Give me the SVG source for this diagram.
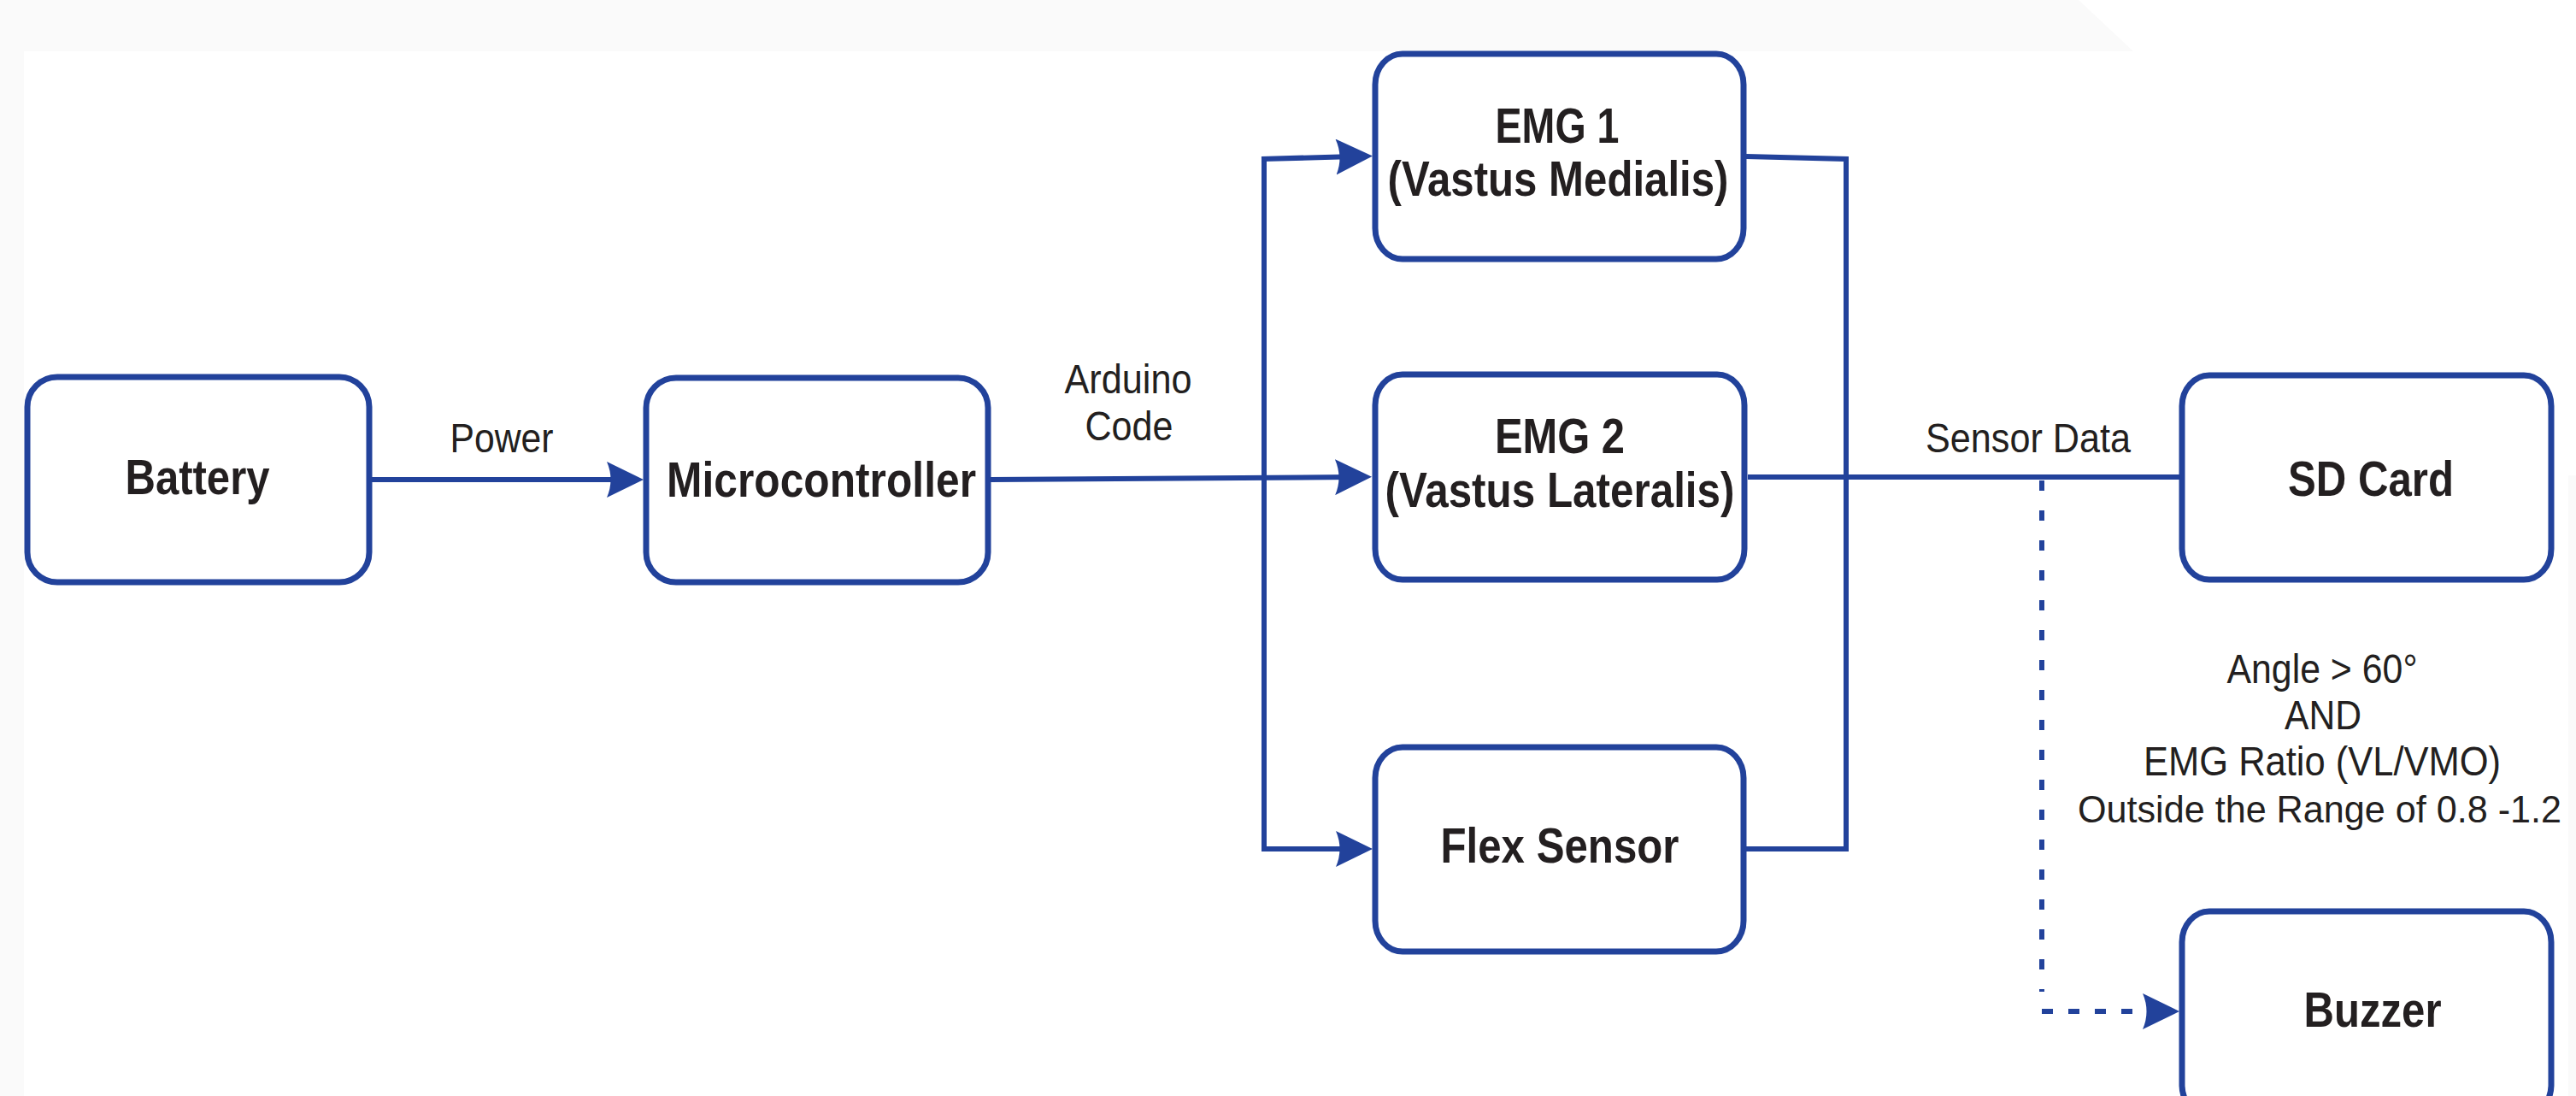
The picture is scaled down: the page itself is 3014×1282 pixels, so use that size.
<svg xmlns="http://www.w3.org/2000/svg" width="3014" height="1282" viewBox="0 0 3014 1282">
<defs>
<style>
.box{fill:#ffffff;stroke:#22429b;stroke-width:7}
.ln{fill:none;stroke:#22429b;stroke-width:6}
.dash{fill:none;stroke:#22429b;stroke-width:6}
.b{font-family:"Liberation Sans",Arial,sans-serif;font-weight:bold;font-size:57px;fill:#231f20;text-anchor:middle}
.r{font-family:"Liberation Sans",Arial,sans-serif;font-size:48px;fill:#231f20;text-anchor:middle}
</style>
<marker id="ah" markerUnits="userSpaceOnUse" markerWidth="44" markerHeight="42" viewBox="0 0 44 42" refX="22" refY="21" orient="auto">
<path d="M0,0 L43,21 L0,42 Q9,21 0,0 Z" fill="#22429b"/>
</marker>
</defs>
<rect x="0" y="0" width="3014" height="1282" fill="#ffffff"/>
<polygon points="0,0 2432,0 2496,60 28,60 28,1282 0,1282" fill="#fafafa"/>
<rect x="3005" y="556" width="9" height="726" fill="#fafafa"/>

<g id="connectors">
<line class="ln" x1="435" y1="561" x2="732" y2="561" marker-end="url(#ah)"/>
<line class="ln" x1="1159" y1="561" x2="1584" y2="558" marker-end="url(#ah)"/>
<line class="ln" x1="1479" y1="183" x2="1479" y2="996"/>
<line class="ln" x1="1476" y1="186" x2="1585" y2="183" marker-end="url(#ah)"/>
<line class="ln" x1="1476" y1="993" x2="1585" y2="993" marker-end="url(#ah)"/>
<polyline class="ln" points="2043,183 2160,186 2160,993 2043,993"/>
<line class="ln" x1="2045" y1="558" x2="2550" y2="558"/>
<path class="dash" d="M2389,562 V1160" stroke-dasharray="12 23"/>
<path class="dash" d="M2389,1183 H2510" stroke-dasharray="13 18"/>
<path d="M2507,1162 L2550,1183 L2507,1204 Q2516,1183 2507,1162 Z" fill="#22429b"/>
<text class="r" x="587" y="529" textLength="121" lengthAdjust="spacingAndGlyphs">Power</text>
<text class="r" x="1320" y="460" textLength="149" lengthAdjust="spacingAndGlyphs">Arduino</text>
<text class="r" x="1321" y="515" textLength="103" lengthAdjust="spacingAndGlyphs">Code</text>
<text class="r" x="2373" y="529" textLength="240" lengthAdjust="spacingAndGlyphs">Sensor Data</text>
<text class="r" x="2717" y="799" textLength="223" lengthAdjust="spacingAndGlyphs">Angle &gt; 60°</text>
<text class="r" x="2718" y="853" textLength="90" lengthAdjust="spacingAndGlyphs">AND</text>
<text class="r" x="2717" y="907" textLength="418" lengthAdjust="spacingAndGlyphs">EMG Ratio (VL/VMO)</text>
<text class="r" x="2714" y="962" style="font-size:45px" textLength="566" lengthAdjust="spacingAndGlyphs">Outside the Range of 0.8 -1.2</text>
</g>

<g id="battery">
<rect class="box" x="32" y="441" width="400" height="240" rx="35" ry="35"/>
<text class="b" x="231" y="578" textLength="169" lengthAdjust="spacingAndGlyphs">Battery</text>
</g>
<g id="microcontroller">
<rect class="box" x="756" y="442" width="400" height="239" rx="35" ry="35"/>
<text class="b" x="961" y="581" textLength="362" lengthAdjust="spacingAndGlyphs">Microcontroller</text>
</g>
<g id="emg1">
<rect class="box" x="1609" y="63" width="431" height="240" rx="32" ry="36"/>
<text class="b" x="1822" y="167" textLength="145" lengthAdjust="spacingAndGlyphs">EMG 1</text>
<text class="b" x="1823" y="229" textLength="399" lengthAdjust="spacingAndGlyphs">(Vastus Medialis)</text>
</g>
<g id="emg2">
<rect class="box" x="1609" y="438" width="432" height="240" rx="32" ry="36"/>
<text class="b" x="1825" y="530" textLength="152" lengthAdjust="spacingAndGlyphs">EMG 2</text>
<text class="b" x="1825" y="593" textLength="409" lengthAdjust="spacingAndGlyphs">(Vastus Lateralis)</text>
</g>
<g id="flex">
<rect class="box" x="1609" y="874" width="431" height="239" rx="32" ry="36"/>
<text class="b" x="1825" y="1009" textLength="279" lengthAdjust="spacingAndGlyphs">Flex Sensor</text>
</g>
<g id="sdcard">
<rect class="box" x="2553" y="439" width="432" height="239" rx="32" ry="36"/>
<text class="b" x="2774" y="580" textLength="194" lengthAdjust="spacingAndGlyphs">SD Card</text>
</g>
<g id="buzzer">
<rect class="box" x="2553" y="1066" width="432" height="239" rx="32" ry="36"/>
<text class="b" x="2776" y="1201" textLength="161" lengthAdjust="spacingAndGlyphs">Buzzer</text>
</g>
</svg>
